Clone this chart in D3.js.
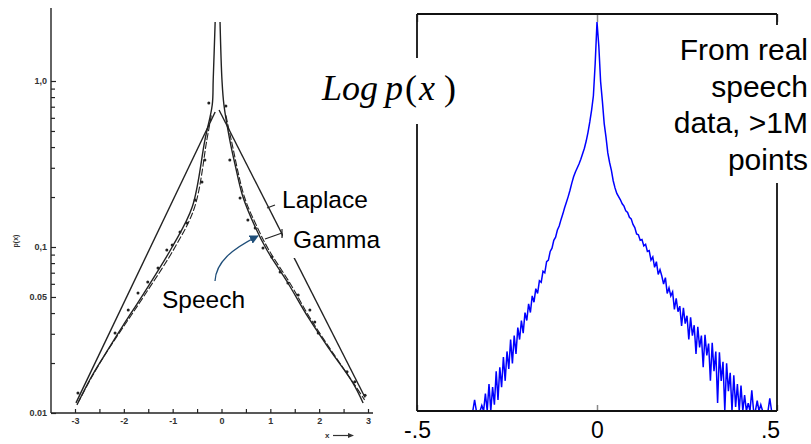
<!DOCTYPE html>
<html>
<head>
<meta charset="utf-8">
<script src="https://cdn.jsdelivr.net/npm/d3@7"></script>
<style>
  body { margin: 0; background: #fff; }
  svg { display: block; }
</style>
</head>
<body>
<svg id="chart" width="811" height="444"></svg>
<script>
// ---- left panel: speech amplitude density vs Laplace / Gamma (log scale) ----
const xTicksL = [-3, -2.5, -2, -1.5, -1, -0.5, 0, 0.5, 1, 1.5, 2, 2.5, 3];
const yMajorL = [1, 0.1, 0.05, 0.01];
const yMajorLabels = ["1,0", "0,1", "0.05", "0.01"];
const yMinorL = [0.9, 0.8, 0.7, 0.6, 0.5, 0.4, 0.3, 0.2, 0.09, 0.08, 0.07, 0.06, 0.04, 0.03, 0.02];

const laplaceLeft = [[-0.13, 0.651], [-2.98, 0.0115]];
const laplaceRight = [[-0.05, 0.669], [2.94, 0.0124]];
const gammaLeft = [[-0.13, 2.27], [-0.17, 1.01], [-0.19, 0.717], [-0.34, 0.441], [-0.60, 0.174],
  [-1.01, 0.100], [-1.62, 0.051], [-2.02, 0.0335], [-2.40, 0.0222], [-2.68, 0.0162], [-2.96, 0.0112]];
const gammaRight = [[-0.03, 2.27], [0.01, 1.01], [0.05, 0.717], [0.17, 0.441], [0.28, 0.312],
  [0.44, 0.200], [0.69, 0.132], [0.93, 0.0959], [1.36, 0.0607], [1.77, 0.0379], [2.22, 0.0240],
  [2.69, 0.0152], [2.90, 0.0115]];
const speechLeft = [[-0.21, 0.62], [-0.30, 0.441], [-0.55, 0.174], [-0.95, 0.100], [-1.58, 0.051],
  [-1.98, 0.0340], [-2.38, 0.0226], [-2.66, 0.0164], [-2.92, 0.0118]];
const speechRight = [[0.09, 0.62], [0.20, 0.441], [0.47, 0.200], [0.73, 0.132], [0.97, 0.0959],
  [1.40, 0.0607], [1.80, 0.0379], [2.24, 0.0240], [2.70, 0.0152], [2.93, 0.0120]];
const speechDots = [[-0.26, 0.737], [-0.34, 0.334], [-0.40, 0.246], [-0.54, 0.192], [-0.71, 0.1395],
  [-0.85, 0.123], [-1.01, 0.1028], [-1.12, 0.0959], [-1.30, 0.0747], [-1.51, 0.0615], [-1.71, 0.0528],
  [-1.91, 0.0417], [-2.18, 0.0303], [-2.94, 0.0132],
  [0.09, 0.707], [0.17, 0.334], [0.38, 0.197], [0.54, 0.1455], [0.69, 0.130], [0.85, 0.0986],
  [1.03, 0.0871], [1.20, 0.0707], [1.36, 0.0607], [1.57, 0.0514], [1.81, 0.0417], [1.91, 0.0353],
  [1.98, 0.0303], [2.57, 0.0177], [2.73, 0.0154], [2.94, 0.0128]];

// ---- right panel: histogram of real speech samples, log10 p per bin ----
const xTicksR = [-0.5, 0, 0.5];
const xTickLabelsR = ["-.5", "0", ".5"];
const binLo = -0.345;
const binStep = 0.005;
const logP = [
  -3.2, -2.86, -3.2, -3.2, -3.2, -2.93, -3.2, -2.78, -3.2, -2.66,
  -3.05, -2.7, -2.92, -2.5, -2.86, -2.45, -2.7, -2.32, -2.62, -2.25,
  -2.47, -2.1, -2.4, -2.05, -2.28, -1.95, -2.1, -1.86, -2.02, -1.76,
  -1.86, -1.65, -1.76, -1.55, -1.63, -1.46, -1.52, -1.36, -1.38, -1.24,
  -1.26, -1.12, -1.1, -0.99, -0.95, -0.85, -0.81, -0.72, -0.67, -0.59,
  -0.52, -0.44, -0.37, -0.3, -0.22, -0.13, -0.05, 0.01, 0.06, 0.11,
  0.17, 0.24, 0.31, 0.4, 0.51, 0.64, 0.79, 0.97, 1.38,
  1.9,
  1.6, 1.15, 0.9, 0.62, 0.45, 0.25, 0.13, 0.03, -0.1, -0.19,
  -0.26, -0.3, -0.34, -0.39, -0.42, -0.48, -0.5, -0.56, -0.58, -0.65,
  -0.69, -0.77, -0.78, -0.85, -0.84, -0.92, -0.9, -0.99, -0.98, -1.1,
  -1.06, -1.19, -1.12, -1.28, -1.22, -1.3, -1.4, -1.32, -1.52, -1.45,
  -1.55, -1.5, -1.72, -1.58, -1.75, -1.68, -1.93, -1.7, -1.9, -1.8,
  -2.1, -1.82, -2.05, -1.92, -2.28, -1.94, -2.2, -2.05, -2.45, -2.04,
  -2.3, -2.15, -2.62, -2.14, -2.5, -2.25, -2.9, -2.26, -2.62, -2.38,
  -3.2, -2.4, -2.75, -2.52, -3.2, -2.55, -2.95, -2.66, -3.2, -2.68,
  -3.2, -2.8, -3.2, -2.9, -3.2, -2.74, -3.2, -3.2, -2.87, -3.2,
  -2.92, -3.2, -3.2, -3.2, -3.2, -2.84, -3.2
];
const noteLines = ["From real", "speech", "data, >1M", "points"];

const svg = d3.select("#chart");
const sans = "'Liberation Sans', Arial, sans-serif";
const serif = "'Liberation Serif', 'Times New Roman', serif";
const ink = "#222";

// ================= left panel =================
const xL = d3.scaleLinear().domain([-3, 3]).range([75, 368]);
const yL = d3.scaleLog().domain([0.01, 1]).range([413, 81]);
const left = svg.append("g");

left.append("g")
  .attr("transform", "translate(51,0)")
  .call(d3.axisLeft(yL).tickValues(yMinorL).tickFormat("").tickSizeInner(-4).tickSizeOuter(0))
  .call(g => g.select(".domain").remove())
  .call(g => g.selectAll("line").attr("stroke", ink).attr("stroke-width", 1.2));

left.append("g")
  .attr("transform", "translate(51,0)")
  .call(d3.axisLeft(yL).tickValues(yMajorL).tickFormat((d, i) => yMajorLabels[i])
    .tickSizeInner(-5).tickSizeOuter(0).tickPadding(4))
  .call(g => g.select(".domain").remove())
  .call(g => g.selectAll("line").attr("stroke", ink).attr("stroke-width", 1.2))
  .call(g => g.selectAll("text").attr("font-family", sans).attr("font-size", 9)
    .attr("font-weight", "bold").attr("fill", "#333"));

left.append("g")
  .attr("transform", "translate(0,413)")
  .call(d3.axisBottom(xL).tickValues(xTicksL).tickFormat(d => Number.isInteger(d) ? String(d) : "")
    .tickSizeInner(-4).tickSizeOuter(0).tickPadding(5))
  .call(g => g.select(".domain").remove())
  .call(g => g.selectAll("line").attr("stroke", ink).attr("stroke-width", 1.2))
  .call(g => g.selectAll("text").attr("font-family", sans).attr("font-size", 9)
    .attr("font-weight", "bold").attr("fill", "#333"));

// axis lines (longer than the data range, as in the scan)
left.append("line").attr("x1", 51).attr("x2", 51).attr("y1", 8).attr("y2", 413)
  .attr("stroke", ink).attr("stroke-width", 1.4);
left.append("line").attr("x1", 51).attr("x2", 373).attr("y1", 413).attr("y2", 413)
  .attr("stroke", ink).attr("stroke-width", 1.4);

left.append("text").attr("transform", "translate(18,241) rotate(-90)")
  .attr("text-anchor", "middle").attr("font-family", sans).attr("font-size", 7)
  .attr("font-weight", "bold").attr("fill", "#333").text("p(x)");

left.append("text").attr("x", 325).attr("y", 438).attr("font-family", sans)
  .attr("font-size", 8).attr("font-weight", "bold").attr("fill", "#333").text("x");
left.append("line").attr("x1", 333).attr("x2", 350).attr("y1", 435.5).attr("y2", 435.5)
  .attr("stroke", "#333").attr("stroke-width", 1.2);
left.append("path").attr("d", "M354,435.5 L348,433 L348,438 Z").attr("fill", "#333");

const lineL = d3.line().x(d => xL(d[0])).y(d => yL(d[1]));
const smoothL = d3.line().x(d => xL(d[0])).y(d => yL(d[1])).curve(d3.curveCatmullRom);

[laplaceLeft, laplaceRight].forEach(s => left.append("path").attr("d", lineL(s))
  .attr("fill", "none").attr("stroke", ink).attr("stroke-width", 1.4));
[gammaLeft, gammaRight].forEach(s => left.append("path").attr("d", smoothL(s))
  .attr("fill", "none").attr("stroke", ink).attr("stroke-width", 1.4));
[speechLeft, speechRight].forEach(s => left.append("path").attr("d", smoothL(s))
  .attr("fill", "none").attr("stroke", ink).attr("stroke-width", 1.1)
  .attr("stroke-dasharray", "7,2"));

left.selectAll("circle.dot").data(speechDots).join("circle")
  .attr("class", "dot")
  .attr("cx", d => xL(d[0])).attr("cy", d => yL(d[1])).attr("r", 1.5)
  .attr("fill", ink);

// labels with white boxes that break the lines behind them
left.append("rect").attr("x", 279).attr("y", 186).attr("width", 94).attr("height", 30).attr("fill", "#fff");
left.append("rect").attr("x", 283).attr("y", 228).attr("width", 100).attr("height", 30).attr("fill", "#fff");
left.append("rect").attr("x", 160).attr("y", 285).attr("width", 90).attr("height", 28).attr("fill", "#fff");

left.append("text").attr("x", 282).attr("y", 208).attr("font-family", sans).attr("font-size", 24.5)
  .attr("fill", "#000").text("Laplace");
left.append("text").attr("x", 293).attr("y", 248).attr("font-family", sans).attr("font-size", 24.5)
  .attr("fill", "#000").text("Gamma");
left.append("text").attr("x", 162).attr("y", 308).attr("font-family", sans).attr("font-size", 24.5)
  .attr("fill", "#000").text("Speech");

// leader marks
left.append("line").attr("x1", 267).attr("x2", 275).attr("y1", 208).attr("y2", 205)
  .attr("stroke", ink).attr("stroke-width", 1.2);
left.append("line").attr("x1", 265).attr("x2", 282).attr("y1", 239).attr("y2", 233)
  .attr("stroke", ink).attr("stroke-width", 1.2);
left.append("line").attr("x1", 282).attr("x2", 282).attr("y1", 229).attr("y2", 238)
  .attr("stroke", ink).attr("stroke-width", 1.2);

// blue arrow pointing at the speech curve
svg.append("defs").append("marker")
  .attr("id", "arrow").attr("viewBox", "0 0 10 10").attr("refX", 9).attr("refY", 5)
  .attr("markerWidth", 7).attr("markerHeight", 7).attr("orient", "auto")
  .append("path").attr("d", "M0,0 L10,5 L0,10 Z").attr("fill", "#1f4e79");
left.append("path").attr("d", "M215,281 C216,262 232,249 258,236")
  .attr("fill", "none").attr("stroke", "#1f4e79").attr("stroke-width", 1.3)
  .attr("marker-end", "url(#arrow)");

// ================= right panel =================
const xR = d3.scaleLinear().domain([-0.5, 0.5]).range([417, 777]);
const yR = d3.scaleLinear().domain([-3, 2]).range([411, 14]).clamp(true);
const right = svg.append("g");

right.append("g")
  .attr("transform", "translate(0,411)")
  .call(d3.axisBottom(xR).tickValues(xTicksR).tickFormat("").tickSizeInner(-6).tickSizeOuter(0))
  .call(g => g.select(".domain").remove())
  .call(g => g.selectAll("line").attr("stroke", "#888").attr("stroke-width", 1.5));
right.append("g")
  .attr("transform", "translate(0,14)")
  .call(d3.axisTop(xR).tickValues(xTicksR).tickFormat("").tickSizeInner(-8).tickSizeOuter(0))
  .call(g => g.select(".domain").remove())
  .call(g => g.selectAll("line").attr("stroke", "#888").attr("stroke-width", 1.5));

const lineR = d3.line().x((d, i) => xR(binLo + i * binStep)).y(d => yR(d));
right.append("path").attr("d", lineR(logP))
  .attr("fill", "none").attr("stroke", "#0000ff").attr("stroke-width", 1.5)
  .attr("stroke-linejoin", "miter");

// frame
const frame = [[417, 14, 777, 14], [417, 411, 777, 411], [417, 14, 417, 411], [777, 14, 777, 411]];
right.selectAll("line.frame").data(frame).join("line")
  .attr("class", "frame")
  .attr("x1", d => d[0]).attr("y1", d => d[1]).attr("x2", d => d[2]).attr("y2", d => d[3])
  .attr("stroke", "#111").attr("stroke-width", 1.8);

right.append("g")
  .attr("transform", "translate(0,411)")
  .call(d3.axisBottom(xR).tickValues(xTicksR).tickFormat((d, i) => xTickLabelsR[i])
    .tickSize(0).tickPadding(11))
  .call(g => g.select(".domain").remove())
  .call(g => g.selectAll("text").attr("font-family", sans).attr("font-size", 23).attr("fill", "#000")
    .attr("dx", (d, i) => i === 2 ? -7 : 0));

// "Log p(x)" axis title
right.append("rect").attr("x", 318).attr("y", 58).attr("width", 152).attr("height", 66).attr("fill", "#fff");
const title = right.append("text").attr("y", 100).attr("font-family", serif).attr("font-size", 36).attr("fill", "#000");
title.append("tspan").attr("x", 322).attr("font-style", "italic").text("Log");
title.append("tspan").attr("x", 385).attr("font-style", "italic").text("p");
title.append("tspan").attr("x", 405).text("(");
title.append("tspan").attr("x", 419).attr("font-style", "italic").text("x");
title.append("tspan").attr("x", 444).text(")");

// note at top right
right.append("rect").attr("x", 668).attr("y", 25).attr("width", 143).attr("height", 158).attr("fill", "#fff");
right.append("g").selectAll("text").data(noteLines).join("text")
  .attr("x", 808).attr("y", (d, i) => 60 + i * 36.7)
  .attr("text-anchor", "end").attr("font-family", sans).attr("font-size", 30).attr("fill", "#000")
  .text(d => d);
</script>
</body>
</html>
